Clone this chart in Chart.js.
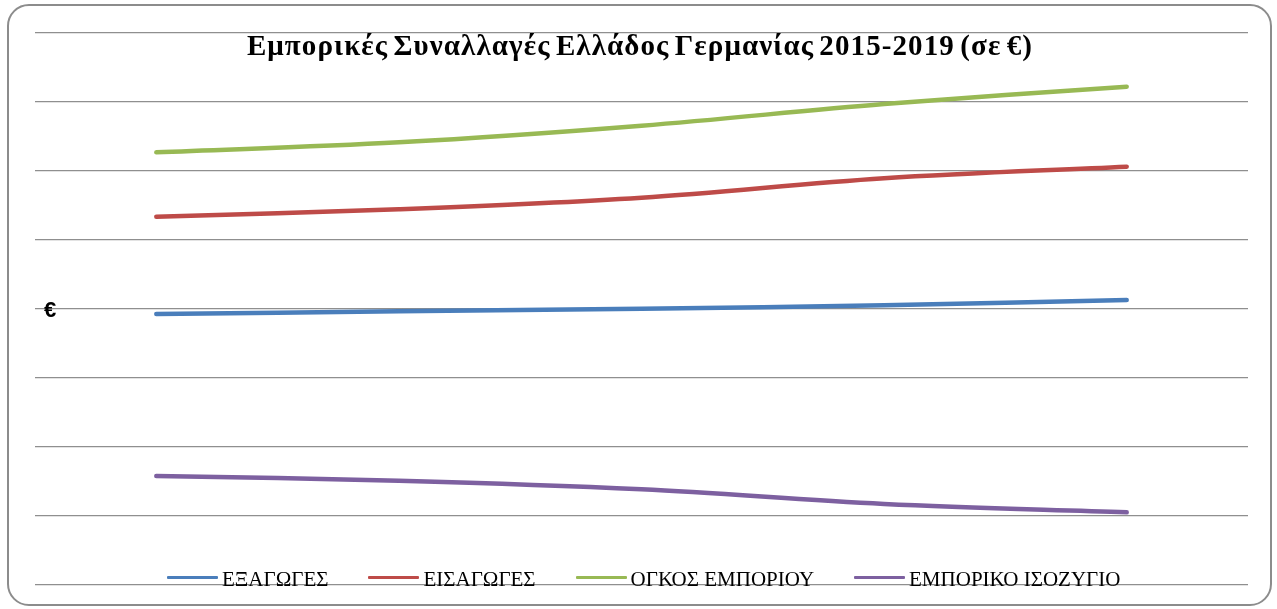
<!DOCTYPE html>
<html>
<head>
<meta charset="utf-8">
<script src="https://cdn.jsdelivr.net/npm/chart.js@4"></script>
<style>
  body { margin: 0; background: #fff; }
  #wrap { position: relative; width: 1277px; height: 609px; overflow: hidden; }
  #frame {
    position: absolute; left: 7px; top: 4px; width: 1261px; height: 598px;
    border: 2px solid #8c8c8c; border-radius: 22px;
  }
  #chart { position: absolute; left: 0; top: 0; }
  #title {
    position: absolute; left: 0; width: 1280px; top: 29px; text-align: center;
    font: bold 29px "Liberation Serif", serif; color: #000;
    letter-spacing: 1.1px; word-spacing: -3px;
  }
  #ylabel {
    position: absolute; left: 44px; top: 297px;
    font: bold 22px "Liberation Sans", sans-serif; color: #000;
  }
  #legend {
    position: absolute; left: 167px; top: 568px; display: flex; align-items: center;
    gap: 40px; font: 21px "Liberation Serif", serif; color: #000;
  }
  #legend .item { display: flex; align-items: center; gap: 4px; line-height: 22px; }
  #legend .swatch { width: 51px; height: 3px; border-radius: 1px; margin-top: -3px; }
</style>
</head>
<body>
<div id="wrap">
  <div id="frame"></div>
  <canvas id="chart" width="1277" height="609"></canvas>
  <div id="title">Εμπορικές Συναλλαγές Ελλάδος Γερμανίας 2015-2019 (σε €)</div>
  <div id="ylabel">€</div>
  <div id="legend"></div>
</div>
<script>
// years
const years = ['2015', '2016', '2017', '2018', '2019'];

// values in euros
const exportsEur = [1.855e9, 1.933e9, 2.009e9, 2.107e9, 2.26e9];
const importsEur = [4.675e9, 4.89e9, 5.226e9, 5.789e9, 6.125e9];
const volumeEur = [6.542e9, 6.832e9, 7.313e9, 7.942e9, 8.444e9];
const balanceEur = [-2.841e9, -2.977e9, -3.227e9, -3.652e9, -3.893e9];

const seriesNames = ['ΕΞΑΓΩΓΕΣ', 'ΕΙΣΑΓΩΓΕΣ', 'ΟΓΚΟΣ ΕΜΠΟΡΙΟΥ', 'ΕΜΠΟΡΙΚΟ ΙΣΟΖΥΓΙΟ'];
const seriesColors = ['#4a7ebb', '#be4b48', '#98b954', '#7d60a0'];

// y axis range
const yMin = -6e9;
const yMax = 10e9;
const yStep = 2e9;

const allSeries = [exportsEur, importsEur, volumeEur, balanceEur];

const config = {
  type: 'line',
  data: {
    labels: years,
    datasets: allSeries.map((vals, i) => ({
      label: seriesNames[i],
      data: vals,
      borderColor: seriesColors[i],
      backgroundColor: seriesColors[i],
      borderWidth: 4.5,
      borderCapStyle: 'round',
      pointRadius: 0,
      tension: 0.35,
      fill: false,
    })),
  },
  options: {
    responsive: false,
    animation: false,
    layout: { padding: { left: 35, right: 29, top: 33, bottom: 24 } },
    plugins: {
      legend: { display: false },
      title: { display: false },
      tooltip: { enabled: false },
    },
    scales: {
      x: { display: false, offset: true },
      y: {
        min: yMin,
        max: yMax,
        ticks: { display: false, stepSize: yStep },
        grid: { color: '#8f8f8f', lineWidth: 1.3, drawTicks: false },
        border: { display: false },
      },
    },
  },
};

const myChart = new Chart(document.getElementById('chart'), config);

// legend as html, same order as datasets
const legendBox = document.getElementById('legend');
seriesNames.forEach((name, i) => {
  const item = document.createElement('div');
  item.className = 'item';
  const sw = document.createElement('span');
  sw.className = 'swatch';
  sw.style.background = seriesColors[i];
  const txt = document.createElement('span');
  txt.textContent = name;
  item.appendChild(sw);
  item.appendChild(txt);
  legendBox.appendChild(item);
});
</script>
</body>
</html>
